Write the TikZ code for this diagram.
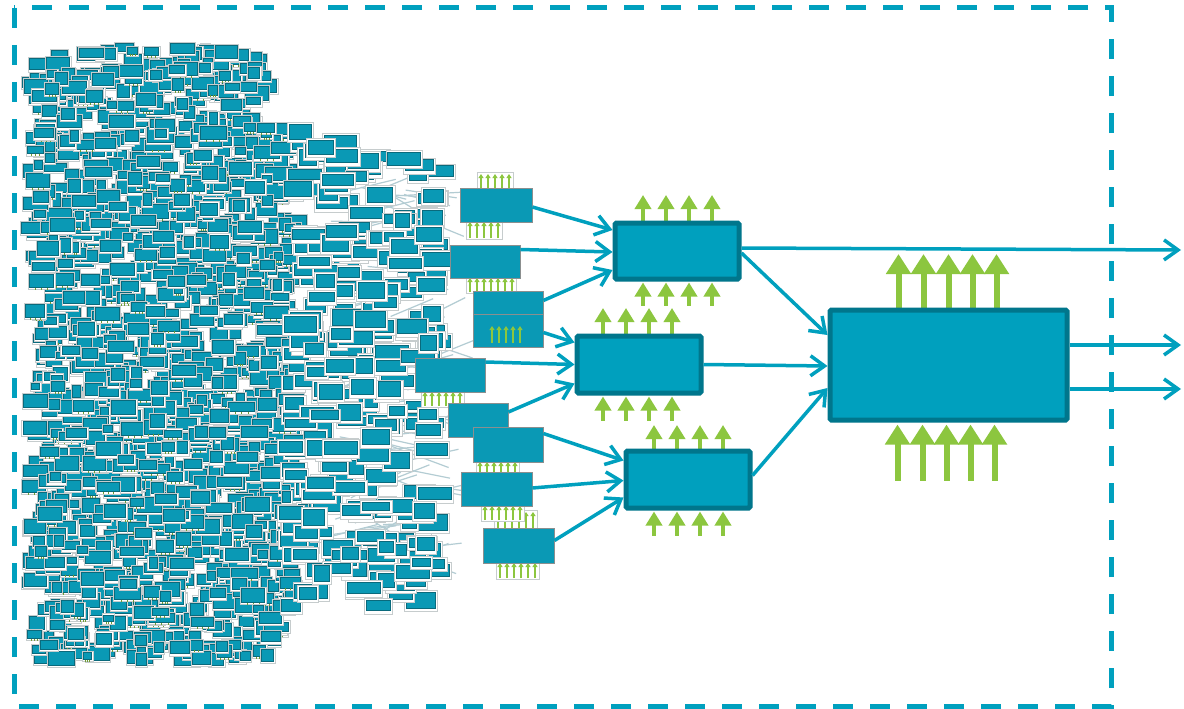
\documentclass[tikz,border=0pt]{standalone}
\usetikzlibrary{arrows.meta,calc,shadows}
\definecolor{teal1}{HTML}{00A0BE}
\definecolor{tealdk}{HTML}{00768C}
\definecolor{grn}{HTML}{8CC63F}
\definecolor{cl}{HTML}{0A99B5}
\definecolor{cldk}{HTML}{0A6A7C}
\definecolor{halo}{HTML}{C6CCCD}
\definecolor{wire}{HTML}{B3CCD3}
\newcommand\tinyarrows[4]{%
  \draw[draw=halo,line width=0.6pt,fill=white] (#1-4,#4-2) rectangle (#1+#2*7-3,#3+1);
  \foreach \i in {1,...,#2}{\draw[tinyg] (#1+\i*7-7,#3) -- (#1+\i*7-7,#4);}}
\begin{document}
\begin{tikzpicture}[x=1pt,y=-1pt,
  bigbox/.style={draw=tealdk, fill=teal1, line width=5pt, rounded corners=1.5pt, inner sep=0pt,
     drop shadow={shadow xshift=2pt,shadow yshift=-2pt,opacity=0.25}},
  medbox/.style={draw=halo!70!black, fill=cl, line width=0.8pt, inner sep=0pt},
  conn/.style={draw=teal1, line width=3.5pt, -{Straight Barb[length=14pt,width=20pt]}},
  garA/.style={draw=grn, line width=4.5pt, -{Triangle[length=14pt,width=16pt]}},
  garD/.style={draw=grn, line width=6pt, -{Triangle[length=20pt,width=24pt]}},
  tinyg/.style={draw=grn, line width=1.3pt, -{Triangle[length=4pt,width=5pt]}},
  borderline/.style={draw=teal1, line width=5pt, dash pattern=on 20pt off 17pt},
  hbox/.style={draw=halo, fill=white, line width=0.5pt},
  cbox/.style={draw=cldk, fill=cl, line width=0.8pt}
]
\useasboundingbox (0,0) rectangle (1184,709);
\fill[white] (0,0) rectangle (1184,709);

% ---------- dense cloud of small blocks (left) ----------
\pgfmathsetseed{12345}
\foreach \k in {1,...,1800}{
  \pgfmathsetmacro\xx{34+rnd*262}
  \pgfmathsetmacro\tp{46+min(80,max(0,\xx-260)*8)+max(0,90-\xx)*0.3}
  \pgfmathsetmacro\bt{660-min(45,max(0,\xx-270)*3)}
  \pgfmathsetmacro\yy{\tp+rnd*(\bt-\tp)}
  \pgfmathsetmacro\ww{8+rnd*18}
  \pgfmathsetmacro\hh{5+rnd*6+\ww*0.15}
  \filldraw[hbox] (\xx-\ww/2-1.2,\yy-\hh/2-1.2) rectangle (\xx+\ww/2+1.2,\yy+\hh/2+2);
  \filldraw[cbox] (\xx-\ww/2,\yy-\hh/2) rectangle (\xx+\ww/2,\yy+\hh/2);
  \pgfmathparse{rnd<0.25 ? 1 : 0}
  \ifnum\pgfmathresult=1
    \draw[grn!80!black,line width=0.6pt] (\xx-\ww/4,\yy+\hh/2+0.5) -- ++(0,2) (\xx,\yy+\hh/2+0.5) -- ++(0,2) (\xx+\ww/4,\yy+\hh/2+0.5) -- ++(0,2);
  \fi
}
% ---------- wires ----------
\foreach \k in {1,...,90}{
  \pgfmathsetmacro\xa{330+rnd*100}
  \pgfmathsetmacro\ya{185+rnd*390}
  \pgfmathsetmacro\yb{\ya+(rnd-0.5)*60}
  \draw[wire,line width=1.2pt] (\xa,\ya) -- (\xa+35+rnd*30,\yb);
}
% ---------- sparser blocks (right part of cloud) ----------
\foreach \k in {1,...,280}{
  \pgfmathsetmacro\xx{290+rnd*148}
  \pgfmathsetmacro\tp{126+max(0,\xx-300)*0.3}
  \pgfmathsetmacro\bt{615-max(0,\xx-300)*0.1}
  \pgfmathsetmacro\yy{\tp+rnd*(\bt-\tp)}
  \pgfmathsetmacro\ww{14+rnd*20}
  \pgfmathsetmacro\hh{8+rnd*8}
  \filldraw[hbox] (\xx-\ww/2-2,\yy-\hh/2-2) rectangle (\xx+\ww/2+2,\yy+\hh/2+3);
  \filldraw[cbox] (\xx-\ww/2,\yy-\hh/2) rectangle (\xx+\ww/2,\yy+\hh/2);
}

% ---------- medium blocks ----------
\tinyarrows{481}{5}{190}{174}
\tinyarrows{470}{5}{238}{222}
\tinyarrows{470}{7}{292}{278}
\tinyarrows{425}{6}{406}{392}
\tinyarrows{498}{6}{530}{512}
\tinyarrows{485}{6}{520}{506}
\tinyarrows{500}{6}{578}{563}
\tinyarrows{480}{6}{476}{462}
\node[medbox, minimum width=72pt, minimum height=34pt] (m1) at (496,205) {};
\node[medbox, minimum width=70pt, minimum height=33pt] (m2) at (485,261.5) {};
\node[medbox, minimum width=70pt, minimum height=33pt] (m3a) at (508,307.5) {};
\node[medbox, minimum width=70pt, minimum height=33pt] (m3b) at (508,330.5) {};
\node[medbox, minimum width=70pt, minimum height=34pt] (m4) at (450,375) {};
\node[medbox, minimum width=60pt, minimum height=34pt] (m5) at (478,420) {};
\node[medbox, minimum width=70pt, minimum height=35pt] (m6) at (508,444.5) {};
\node[medbox, minimum width=71pt, minimum height=34pt] (m7) at (496.5,489) {};
\node[medbox, minimum width=71pt, minimum height=35pt] (m8) at (518.5,545.5) {};
\foreach \xx in {492,499,506,513,520}{\draw[tinyg] (\xx,343) -- (\xx,326);}

% ---------- green arrows of the three blocks (behind) ----------
\coordinate (Aref) at (677,223);
\coordinate (Bref) at (639,336);
\coordinate (Cref) at (688,451);
\coordinate (Dref) at (948.5,310);
\foreach \dx in {-34,-11,12,35}{
  \draw[garA] ($(Aref)+(\dx,0)$) -- ++(0,-28);
  \draw[garA] ($(Bref)+(\dx-2,0)$) -- ++(0,-28);
  \draw[garA] ($(Cref)+(\dx,0)$) -- ++(0,-26);
}
\foreach \dx in {-50,-25,0,24,48}{
  \draw[garD] ($(Dref)+(\dx,0)$) -- ++(0,-56);
}

% ---------- main blocks ----------
\node[bigbox, minimum width=124pt, minimum height=56pt] (A) at (677,251) {};
\node[bigbox, minimum width=124pt, minimum height=57pt] (B) at (639,364.5) {};
\node[bigbox, minimum width=124pt, minimum height=57pt] (C) at (688,479.5) {};
\node[bigbox, minimum width=237pt, minimum height=110pt] (D) at (948.5,365) {};

\foreach \dx in {-34,-11,12,35}{
  \draw[garA] ($(A.south)+(\dx,24)$) -- ($(A.south)+(\dx,1)$);
  \draw[garA] ($(B.south)+(\dx-2,25)$) -- ($(B.south)+(\dx-2,1)$);
  \draw[garA] ($(C.south)+(\dx,25)$) -- ($(C.south)+(\dx,1)$);
}
\foreach \dx in {-51,-26,-2,22,46}{
  \draw[garD] ($(D.south)+(\dx,58)$) -- ($(D.south)+(\dx,2)$);
}

% ---------- connectors ----------
\draw[conn] ([yshift=-2pt]m1.east) -- ([yshift=21pt]A.west);
\draw[conn] ([yshift=12pt]m2.east) -- ([yshift=-1pt]A.west);
\draw[conn] ([yshift=7pt]m3a.east) -- ([yshift=-19pt]A.west);
\draw[conn] ([yshift=-2pt]m3b.east) -- ([yshift=22pt]B.west);
\draw[conn] ([yshift=13pt]m4.east) -- (B.west);
\draw[conn] ([yshift=8pt]m5.east) -- ([yshift=-19pt]B.west);
\draw[conn] ([yshift=11pt]m6.east) -- ([yshift=19pt]C.west);
\draw[conn] ([yshift=1pt]m7.east) -- ([yshift=-1pt]C.west);
\draw[conn] ([yshift=5pt]m8.east) -- ([yshift=-18pt]C.west);
\draw[conn] ([yshift=-2pt]A.east) -- ([yshift=30pt]D.west);
\draw[conn] (B.east) -- ([yshift=-1pt]D.west);
\draw[conn] ([yshift=4pt]C.east) -- ([yshift=-23pt]D.west);
\coordinate (o1) at (1181,250);
\coordinate (o2) at (1181,345);
\coordinate (o3) at (1181,389);
\draw[conn] ([yshift=3pt]A.east) -- (o1);
\draw[conn] ([yshift=20pt]D.east) -- (o2);
\draw[conn] ([yshift=-24pt]D.east) -- (o3);

% ---------- dashed frame ----------
\draw[borderline] (14,8) rectangle (1111,706);
\end{tikzpicture}
\end{document}
